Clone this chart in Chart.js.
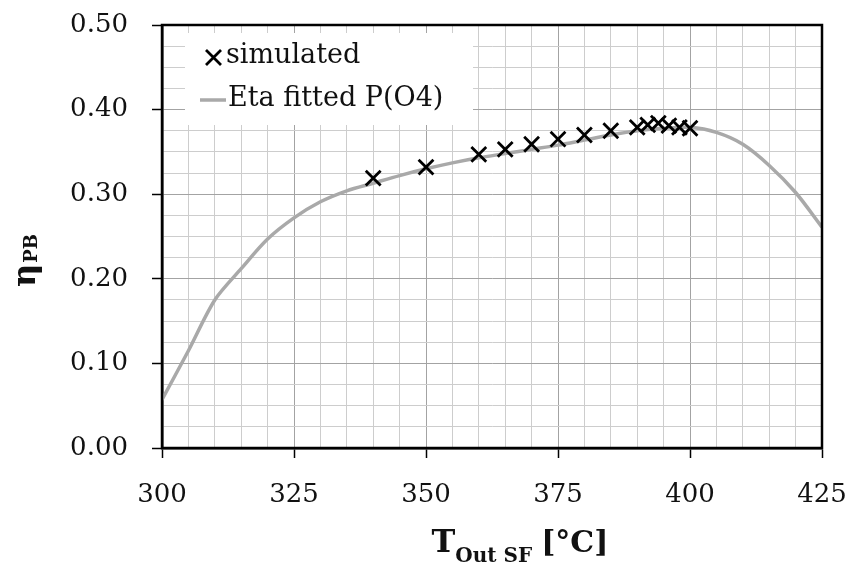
<!DOCTYPE html>
<html lang="en">
<head>
<meta charset="utf-8">
<title>Power block efficiency</title>
<script src="https://cdn.jsdelivr.net/npm/chart.js@4.4.1/dist/chart.umd.min.js"></script>
<style>
	body { margin: 0; background: #fff; }
</style>
</head>
<body>
<canvas id="c1" width="848" height="565"></canvas>
<script>
	// simulated operating points
	var simT   = [340, 350, 360, 365, 370, 375, 380, 385, 390, 392, 394, 396, 398, 400];
	var simEta = [0.319, 0.332, 0.347, 0.353, 0.359, 0.365, 0.370, 0.375, 0.379, 0.382, 0.384, 0.381, 0.379, 0.378];

	// fitted polynomial P(O4), sampled every 5 degC
	var fitT   = [300, 305, 310, 315, 320, 325, 330, 335, 340, 345, 350, 355, 360, 365, 370, 375, 380, 385, 390, 395, 400, 405, 410, 415, 420, 425];
	var fitEta = [0.057, 0.115, 0.175, 0.212, 0.247, 0.272, 0.291, 0.304, 0.313, 0.322, 0.330, 0.337, 0.343, 0.348, 0.353, 0.358, 0.364, 0.370, 0.375, 0.378, 0.379, 0.373, 0.359, 0.334, 0.302, 0.261];

	var xMajor = [300, 325, 350, 375, 400, 425];
	var yMajor = [0, 0.1, 0.2, 0.3, 0.4, 0.5];

	var FONT = "'DejaVu Serif', serif";

	function isYMajor(v) {
		return yMajor.some(function(m) { return Math.abs(m - v) < 1e-6; });
	}

	function pairs(xs, ys) {
		return xs.map(function(x, i) { return {x: x, y: ys[i]}; });
	}

	// fixed axis sizes, no extra room for overhanging labels
	function fixSize(prop, size) {
		return function(scale) {
			scale[prop] = size;
			scale.paddingLeft = scale.paddingRight = 0;
			scale.paddingTop = scale.paddingBottom = 0;
		};
	}

	// legend box drawn inside the plot, over the grid
	var boxLegend = {
		id: 'boxLegend',
		afterDatasetsDraw: function(chart) {
			var ctx = chart.ctx;
			ctx.save();
			ctx.fillStyle = '#fff';
			ctx.fillRect(185, 33, 288, 92);

			// cross marker
			ctx.strokeStyle = '#000';
			ctx.lineWidth = 2.8;
			ctx.beginPath();
			ctx.moveTo(206, 50); ctx.lineTo(221, 65);
			ctx.moveTo(221, 50); ctx.lineTo(206, 65);
			ctx.stroke();

			// line sample
			ctx.strokeStyle = '#a9a9a9';
			ctx.lineWidth = 3.5;
			ctx.beginPath();
			ctx.moveTo(200, 100); ctx.lineTo(226, 100);
			ctx.stroke();

			ctx.fillStyle = '#111';
			ctx.font = '27px ' + FONT;
			ctx.textBaseline = 'middle';
			ctx.fillText('simulated', 226, 56);
			ctx.fillText('Eta fitted P(O4)', 228, 99);
			ctx.restore();
		}
	};

	// frame and axis titles with subscripts
	var frameTitles = {
		id: 'frameTitles',
		afterDraw: function(chart) {
			var ctx = chart.ctx, a = chart.chartArea;
			ctx.save();
			ctx.strokeStyle = '#000';
			ctx.lineWidth = 2.5;
			ctx.strokeRect(a.left, a.top, a.right - a.left, a.bottom - a.top);

			ctx.fillStyle = '#111';
			ctx.textBaseline = 'alphabetic';

			// x title: T_Out SF [°C]
			ctx.font = 'bold 32px ' + FONT;
			var wT = ctx.measureText('T').width;
			ctx.font = 'bold 20px ' + FONT;
			var wS = ctx.measureText('Out SF').width;
			ctx.font = 'bold 30px ' + FONT;
			var wU = ctx.measureText('[°C]').width;
			var gap = 9;
			var x0 = 520 - (wT + wS + gap + wU) / 2;
			ctx.font = 'bold 32px ' + FONT;
			ctx.fillText('T', x0, 552);
			ctx.font = 'bold 20px ' + FONT;
			ctx.fillText('Out SF', x0 + wT, 562);
			ctx.font = 'bold 30px ' + FONT;
			ctx.fillText('[°C]', x0 + wT + wS + gap, 552);

			// y title: η_PB, rotated
			ctx.translate(35, 261);
			ctx.rotate(-Math.PI / 2);
			ctx.font = 'bold 32px ' + FONT;
			var wE = ctx.measureText('η').width;
			ctx.font = 'bold 18px ' + FONT;
			var wP = ctx.measureText('PB').width;
			var u0 = -(wE + wP) / 2;
			ctx.font = 'bold 32px ' + FONT;
			ctx.fillText('η', u0, 0);
			ctx.font = 'bold 18px ' + FONT;
			ctx.fillText('PB', u0 + wE + 1, 2);
			ctx.restore();
		}
	};

	var config = {
		type: 'scatter',
		plugins: [boxLegend, frameTitles],
		data: {
			datasets: [
				{
					label: 'Eta fitted P(O4)',
					data: pairs(fitT, fitEta),
					showLine: true,
					borderColor: '#a9a9a9',
					borderWidth: 3.5,
					tension: 0.3,
					pointRadius: 0,
					order: 2
				},
				{
					label: 'simulated',
					data: pairs(simT, simEta),
					pointStyle: 'crossRot',
					pointRadius: 10.5,
					borderColor: '#000',
					borderWidth: 2.8,
					order: 1
				}
			]
		},
		options: {
			responsive: false,
			animation: false,
			layout: { padding: { top: 25, right: 26, left: 0, bottom: 0 } },
			plugins: {
				legend: { display: false },
				tooltip: { enabled: false }
			},
			scales: {
				x: {
					type: 'linear',
					min: 300,
					max: 425,
					afterFit: fixSize('height', 117),
					border: { color: '#000', width: 2.5 },
					grid: {
						color: function(c) { return xMajor.indexOf(c.tick.value) >= 0 ? '#a3a3a3' : '#cdcdcd'; },
						tickColor: function(c) { return xMajor.indexOf(c.tick.value) >= 0 ? '#000' : 'rgba(0,0,0,0)'; },
						tickLength: 10,
						tickWidth: 1.5
					},
					ticks: {
						stepSize: 5,
						autoSkip: false,
						maxRotation: 0,
						padding: 22,
						color: '#111',
						font: { family: FONT, size: 26 },
						callback: function(v) { return xMajor.indexOf(v) >= 0 ? String(v) : ''; }
					}
				},
				y: {
					min: 0,
					max: 0.5,
					afterFit: fixSize('width', 162),
					border: { color: '#000', width: 2.5 },
					grid: {
						color: function(c) { return isYMajor(c.tick.value) ? '#a3a3a3' : '#cdcdcd'; },
						tickColor: function(c) { return isYMajor(c.tick.value) ? '#000' : 'rgba(0,0,0,0)'; },
						tickLength: 10,
						tickWidth: 1.5
					},
					ticks: {
						stepSize: 0.025,
						autoSkip: false,
						padding: 24,
						color: '#111',
						font: { family: FONT, size: 26 },
						callback: function(v) { return isYMajor(v) ? v.toFixed(2) : ''; }
					}
				}
			}
		}
	};

	var chart = new Chart(document.getElementById('c1'), config);
</script>
</body>
</html>
